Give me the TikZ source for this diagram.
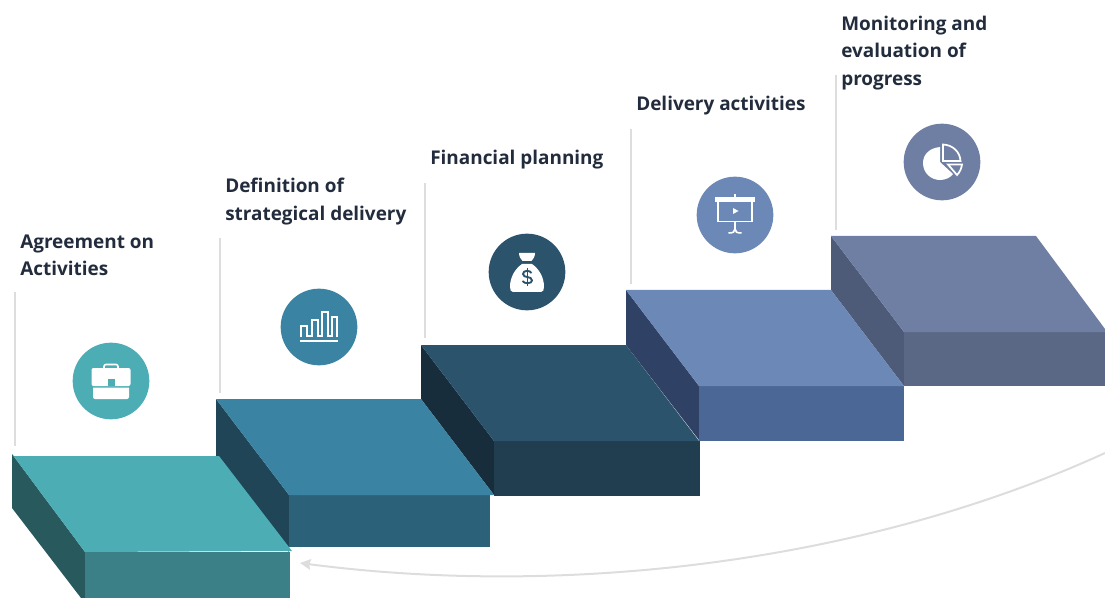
\documentclass[tikz,border=0pt]{standalone}
\usepackage{fontspec}
\usetikzlibrary{arrows.meta}
\setmainfont{Open Sans}
\definecolor{ink}{HTML}{222C3C}
\definecolor{guide}{HTML}{DDDDDD}
\definecolor{aT}{HTML}{4DADB5}\definecolor{aF}{HTML}{3C8087}\definecolor{aL}{HTML}{28595D}
\definecolor{bT}{HTML}{3B83A3}\definecolor{bF}{HTML}{2B627A}\definecolor{bL}{HTML}{1F4557}
\definecolor{cT}{HTML}{2C536C}\definecolor{cF}{HTML}{213E51}\definecolor{cL}{HTML}{182D3B}
\definecolor{dT}{HTML}{6C88B6}\definecolor{dF}{HTML}{4B6796}\definecolor{dL}{HTML}{2F4266}
\definecolor{eT}{HTML}{6F7FA3}\definecolor{eF}{HTML}{5A6886}\definecolor{eL}{HTML}{4D5A78}
\tikzset{
  x=0.75pt,y=-0.75pt,
  lbl/.style={font=\fontsize{14.2}{20.5}\selectfont\bfseries,text=ink,anchor=north west,align=left,inner sep=0pt},
  guideline/.style={draw=guide,line width=1.5pt},
  disc/.style={circle,minimum size=57.5pt,inner sep=0pt},
  iconw/.style={draw=white,line width=1.3pt,fill=none,line join=miter},
}
\begin{document}
\begin{tikzpicture}
\useasboundingbox (0,0) rectangle (1105,598);
% guides
\coordinate (g1a) at (15,292);\coordinate (g1b) at (15,446);
\coordinate (g2a) at (220,238);\coordinate (g2b) at (220,393);
\coordinate (g3a) at (425,183);\coordinate (g3b) at (425,338);
\coordinate (g4a) at (631,129);\coordinate (g4b) at (631,284);
\coordinate (g5a) at (836,75);\coordinate (g5b) at (836,230);
\foreach \g in {1,...,5} \draw[guideline] (g\g a) -- (g\g b);
% return curve
\coordinate (cs) at (1105,453);\coordinate (ce) at (300,563);
\draw[guide,line width=1.5pt,-{Stealth[length=8pt,width=8pt,inset=1pt]}] (cs) .. controls (860,565) and (560,597) .. (ce);
% step 5
\fill[eL] (831,236) -- (904,332) -- (904,386) -- (831,290) -- cycle;
\fill[eF] (904,332) rectangle (1105,386);
\fill[eT] (831,236) -- (1036,236) -- (1105,329) -- (1105,332) -- (904,332) -- cycle;
% step 4
\fill[dL] (626,290) -- (699,386) -- (699,440) -- (626,345) -- cycle;
\fill[dF] (699,386) rectangle (904,441);
\fill[dT] (626,290) -- (831,290) -- (904,386) -- (699,386) -- cycle;
% step 3
\fill[cL] (421,345) -- (494,441) -- (494,495) -- (421,399) -- cycle;
\fill[cF] (494,441) rectangle (700,496);
\fill[cT] (421,345) -- (626,345) -- (699,441) -- (494,441) -- cycle;
% step 2
\fill[bL] (216,399) -- (289,495) -- (289,552) -- (216,456) -- cycle;
\fill[bF] (289,495) rectangle (490,547);
\fill[bT] (216,399) -- (421,399) -- (494,495) -- (289,495) -- cycle;
% step 1
\fill[aL] (12,454) -- (85,552) -- (85,598) -- (81,598) -- (12,508) -- cycle;
\fill[aF] (85,552) rectangle (290,598);
\fill[aT] (12,454) -- (14,456) -- (219,456) -- (292,551) -- (85,552) -- cycle;
% labels
\node[lbl] (t1) at (20,234.5) {Agreement on\\Activities};
\node[lbl] (t2) at (225,178) {Definition of\\strategical delivery};
\node[lbl] (t3) at (430,150) {Financial planning};
\node[lbl] (t4) at (636,96) {Delivery activities};
\node[lbl] (t5) at (841,16) {Monitoring and\\evaluation of\\progress};
% discs
\node[disc,fill=aT] (i1) at (111,381) {};
\node[disc,fill=bT] (i2) at (319,327) {};
\node[disc,fill=cT] (i3) at (527,272) {};
\node[disc,fill=dT] (i4) at (735,215) {};
\node[disc,fill=eT] (i5) at (942,162) {};
% briefcase
\begin{scope}[shift={(i1.center)}]
  \draw[white,line width=1.2pt,rounded corners=1.5pt] (-7,-12) -- (-7,-16.5) -- (7,-16.5) -- (7,-12);
  \fill[white,rounded corners=1.5pt] (-19.5,-13) rectangle (19.5,5);
  \fill[white] (-18,6.5) -- (18,6.5) -- (18,15) [rounded corners=1.5pt] -- (18,18) -- (-18,18) [sharp corners] -- (-18,15) -- cycle;
  \fill[aT] (-3.5,-2) rectangle (3.5,5);
\end{scope}
% bars
\begin{scope}[shift={(i2.center)}]
  \draw[white,line width=1.6pt] (-19,14) -- (19,14);
  \draw[iconw] (-18,9.5) -- (-18,-1) -- (-12,-1) -- (-12,9) -- (-7,9) -- (-7,-7) -- (-1,-7) -- (-1,9) -- (3,9) -- (3,-15) -- (9,-15) -- (9,9) -- (13,9) -- (13,-10) -- (18,-10) -- (18,9.5);
\end{scope}
% money bag
\begin{scope}[shift={(i3.center)}]
  \fill[white] (-8,-19) -- (8,-19) .. controls (8,-15) and (6,-13) .. (4.5,-11) -- (-4.5,-11) .. controls (-6,-13) and (-8,-15) .. (-8,-19) -- cycle;
  \fill[white] (-5,-8) -- (5,-8) .. controls (12,-3) and (17,5) .. (17,15) .. controls (17,18) and (16,20) .. (14,20) -- (-14,20) .. controls (-16,20) and (-17,18) .. (-17,15) .. controls (-17,5) and (-12,-3) .. (-5,-8) -- cycle;
  \draw[cT,line width=1.4pt] (4.5,1) .. controls (3,-2) and (-4,-2) .. (-4,2) .. controls (-4,6.5) and (5,3.5) .. (5,8.5) .. controls (5,12) and (-3,12) .. (-4.5,9);
  \draw[cT,line width=1.4pt] (0.5,-4) -- (0.5,14);
\end{scope}
% projection screen
\begin{scope}[shift={(i4.center)}]
  \fill[white] (-20,-18) rectangle (20,-13);
  \draw[white,line width=1pt] (0,-18) -- (0,-21);
  \draw[iconw] (-17,-13) -- (-17,6.5) -- (17,6.5) -- (17,-13);
  \fill[white] (-2,-7) -- (3.5,-4) -- (-2,-1) -- cycle;
  \draw[white,line width=1.3pt] (0,6) -- (0,16);
  \draw[white,line width=1.2pt] (-6.5,18) .. controls (-2,18) and (0,17) .. (0,14) .. controls (0,17) and (2,18) .. (6.5,18);
\end{scope}
% pie chart
\begin{scope}[shift={(i5.center)}]
  \fill[white] (-2,-15) .. controls (-12,-14) and (-19,-8) .. (-19,1) .. controls (-19,11) and (-11,18) .. (-2,18) .. controls (3,18) and (8,16) .. (11,12) -- (-2,0) -- cycle;
  \draw[iconw] (1,-17.5) .. controls (11,-17) and (18,-10) .. (18.5,-1) -- (1,-1) -- cycle;
  \draw[iconw] (6,2.5) -- (20,2.5) .. controls (19.5,6) and (18,10) .. (15,13) -- cycle;
\end{scope}
\end{tikzpicture}
\end{document}
